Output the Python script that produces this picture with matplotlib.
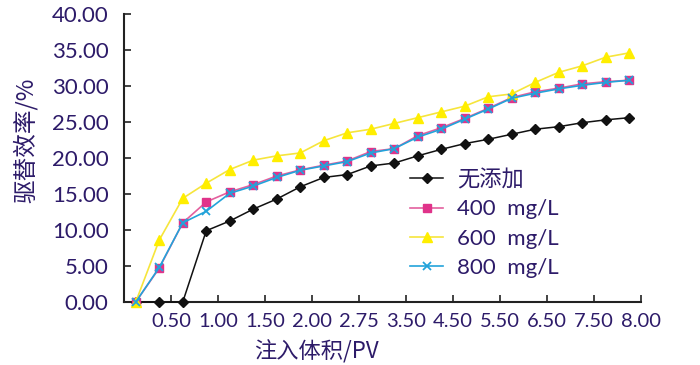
import numpy as np
import matplotlib
matplotlib.use("Agg")
import matplotlib.pyplot as plt

no_additive = [0, 0, 0, 9.9, 11.25, 12.9, 14.3, 16.0, 17.3, 17.7, 18.9,
               19.3, 20.3, 21.2, 22.0, 22.6, 23.3, 24.0, 24.35, 24.9, 25.3, 25.6]
c400 = [0, 4.7, 11.0, 13.9, 15.3, 16.3, 17.5, 18.35, 19.0, 19.6, 20.9,
        21.3, 23.1, 24.2, 25.5, 26.9, 28.4, 29.2, 29.7, 30.3, 30.6, 30.8]
c600 = [0, 8.6, 14.4, 16.5, 18.4, 19.7, 20.3, 20.7, 22.4, 23.5, 24.0,
        24.8, 25.6, 26.4, 27.2, 28.5, 28.9, 30.5, 31.9, 32.8, 34.0, 34.6]
c800 = [0, 4.8, 11.0, 12.6, 15.1, 16.1, 17.3, 18.3, 18.9, 19.5, 20.7,
        21.3, 22.9, 24.0, 25.4, 26.8, 28.3, 29.0, 29.6, 30.1, 30.5, 30.8]
tick_labels = ["0.50", "1.00", "1.50", "2.00", "2.75", "3.50",
               "4.50", "5.50", "6.50", "7.50", "8.00"]
series_names = ["无添加", "400  mg/L", "600  mg/L", "800  mg/L"]

txt = "#2D1B69"
fam = ["Lato", "Noto Sans CJK SC"]
plt.rcParams["font.family"] = fam

fig = plt.figure(figsize=(7, 3.65), dpi=100)
ax = fig.add_axes([124 / 700, 1 - 302 / 365, (641 - 124) / 700, (302 - 14) / 365])

x = np.arange(len(no_additive))
ax.plot(x, no_additive, color="#111111", lw=1.1, marker="D", ms=5,
        label=series_names[0], clip_on=False, zorder=3)
ax.plot(x, c400, color="#E3609E", lw=1.2, marker="s", ms=5.5,
        mfc="#E0338A", mec="#E0338A", label=series_names[1], clip_on=False, zorder=3)
ax.plot(x, c600, color="#F6E53C", lw=1.2, marker="^", ms=7.5,
        mfc="#FFEE00", mec="#FFEE00", label=series_names[2], clip_on=False, zorder=3)
ax.plot(x, c800, color="#22A3DA", lw=1.2, marker="x", ms=6, mew=1.3,
        label=series_names[3], clip_on=False, zorder=4)

ax.set_xlim(-0.5, len(x) - 0.5)
ax.set_ylim(0, 40)
ax.set_xticks(np.arange(1.5, len(x), 2))
ax.set_xticklabels(tick_labels)
ax.set_yticks(np.arange(0, 41, 5))
ax.set_yticklabels([f"{v:.2f}" for v in np.arange(0, 41, 5)])

for s in ["top", "right"]:
    ax.spines[s].set_visible(False)
for s in ["left", "bottom"]:
    ax.spines[s].set_linewidth(1.5)
    ax.spines[s].set_color("#222222")

ax.tick_params(axis="both", direction="in", length=5, width=1.2,
               colors="#222222", labelcolor=txt)
ax.tick_params(axis="y", pad=11, labelsize=16)
ax.tick_params(axis="x", pad=8, labelsize=14.5)

fig.text(316 / 700, 1 - 352 / 365, "注入体积/PV", ha="center", va="center",
         fontsize=16, color=txt, family=["Noto Sans CJK SC"])
fig.text(25 / 700, 1 - 140 / 365, "驱替效率/%", ha="center", va="center",
         rotation=90, fontsize=17, color=txt, family=["Noto Sans CJK SC"])

leg = ax.legend(loc="upper left", bbox_to_anchor=(410 / 700, 1 - 169 / 365),
                bbox_transform=fig.transFigure, frameon=False,
                handlelength=1.5, handletextpad=0.6, labelspacing=0.42,
                borderpad=0, borderaxespad=0, fontsize=16)
for t in leg.get_texts():
    t.set_color(txt)

fig.savefig("out.png", dpi=100)
